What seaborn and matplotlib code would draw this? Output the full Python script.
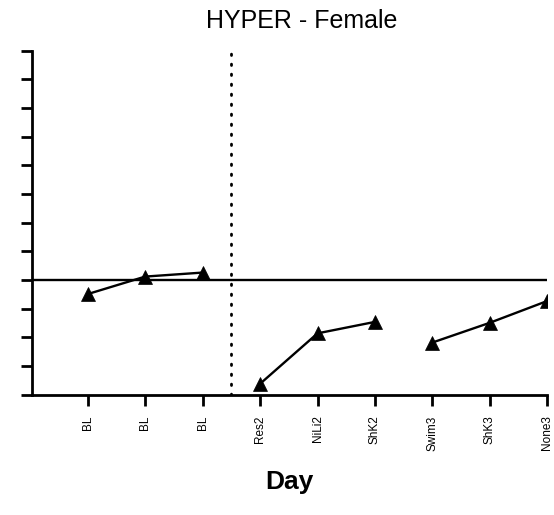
import matplotlib
matplotlib.use("Agg")
import matplotlib.pyplot as plt
import pandas as pd
import numpy as np
import seaborn as sns

# tick labels along the x axis, one per time point
day_labels = ["BL", "BL", "BL", "Res2", "NiLi2", "ShK2", "Swim3", "ShK3", "None3"]
# which session each point belongs to (lines are not joined across sessions)
session = ["base", "base", "base", "day2", "day2", "day2", "day3", "day3", "day3"]
# values
values = [-0.49, 0.12, 0.26, -3.62, -1.86, -1.46, -2.18, -1.49, -0.73]

df = pd.DataFrame({
    "pos": np.arange(len(day_labels)),
    "value": values,
    "session": session,
})

sns.set_style("white")
plt.rcParams["font.family"] = ["Liberation Sans", "DejaVu Sans"]
plt.rcParams["text.color"] = "black"
plt.rcParams["axes.labelcolor"] = "black"
plt.rcParams["xtick.color"] = "black"
plt.rcParams["ytick.color"] = "black"

fig = plt.figure(figsize=(5.54, 5.15), dpi=100)
ax = fig.add_axes([0.0572, 0.2336, 0.988 - 0.0572, 0.9016 - 0.2336])

# one black line per session, triangle markers
sns.lineplot(data=df, x="pos", y="value", hue="session",
             palette=["black"] * 3, marker="^", markersize=10,
             markeredgewidth=0.5, markeredgecolor="black",
             linewidth=1.7, legend=False, ax=ax)

# reference line at zero and the split between baseline and treatment
ax.axhline(0, color="black", linewidth=1.7, zorder=1)
ax.axvline(2.5, color="black", linewidth=2, linestyle=(0, (0.5, 3.1)),
           dash_capstyle="round", zorder=1)

ax.set_xlim(-0.975, 8)
ax.set_ylim(-4, 8)
ax.set_yticks(np.arange(-4, 9, 1))
ax.set_yticklabels([])
ax.set_xticks(df["pos"])
ax.set_xticklabels(day_labels, rotation=90, fontsize=8.5, va="top")

for side in ["top", "right"]:
    ax.spines[side].set_visible(False)
for side in ["left", "bottom"]:
    ax.spines[side].set_linewidth(2)
    ax.spines[side].set_color("black")
ax.tick_params(axis="both", direction="out", length=8, width=2,
               color="black", left=True, bottom=True)
ax.tick_params(axis="x", pad=7)

ax.set_xlabel("Day", fontsize=19, fontweight="bold", labelpad=14)
ax.set_ylabel("")
fig.text(302 / 554, 1 - 28.3 / 515, "HYPER - Female", fontsize=18,
         ha="center", va="baseline")

plt.savefig("out.png", dpi=100)
